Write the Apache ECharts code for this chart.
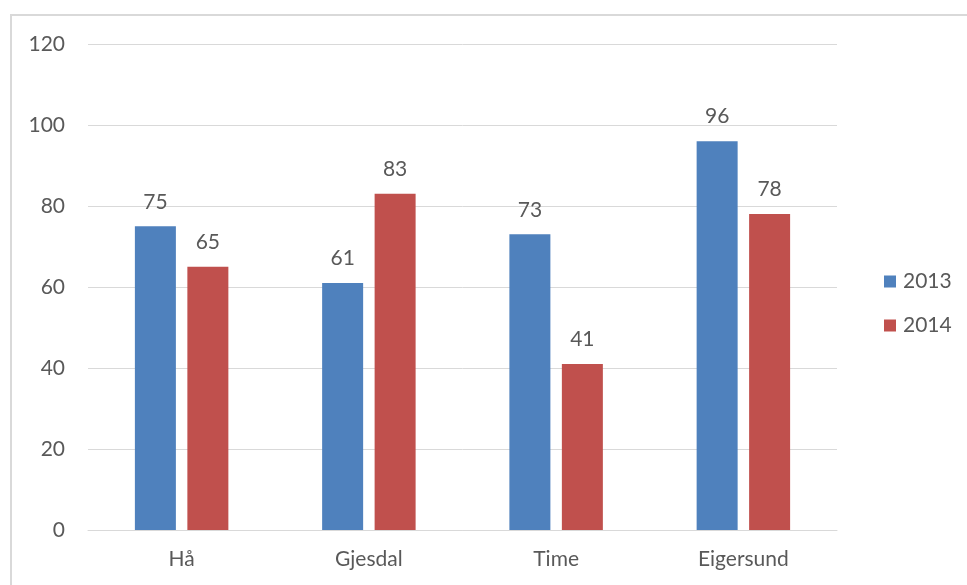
<!DOCTYPE html>
<html>
<head>
<meta charset="utf-8">
<script src="https://cdn.jsdelivr.net/npm/echarts@6/dist/echarts.min.js"></script>
<style>
  html, body { margin: 0; padding: 0; background: #ffffff; }
  #chart { width: 967px; height: 585px; }
</style>
</head>
<body>
<div id="chart"></div>
<script>
// Municipalities along the category axis
const categories = ['Hå', 'Gjesdal', 'Time', 'Eigersund'];
// Values per year
const values2013 = [75, 61, 73, 96];
const values2014 = [65, 83, 41, 78];
// Value axis range
const yMin = 0;
const yMax = 120;
const yStep = 20;

const textColor = '#595959';
const fontFamily = 'Lato, "Open Sans", sans-serif';
const fontSize = 21;

const chart = echarts.init(document.getElementById('chart'), null, { renderer: 'canvas' });

const labelStyle = {
  show: true,
  position: 'top',
  distance: 14,
  color: textColor,
  fontFamily: fontFamily,
  fontSize: fontSize
};

chart.setOption({
  animation: false,
  backgroundColor: '#ffffff',
  graphic: [{
    type: 'rect',
    shape: { x: 11, y: 15, width: 1200, height: 1000 },
    style: { fill: 'none', stroke: '#d9d9d9', lineWidth: 2 },
    silent: true
  }],
  grid: { left: 88, right: 130, top: 44, bottom: 55, containLabel: false },
  legend: {
    orient: 'vertical',
    left: 879,
    top: 266,
    itemWidth: 12,
    itemHeight: 12,
    itemGap: 23,
    icon: 'rect',
    textStyle: { color: textColor, fontFamily: fontFamily, fontSize: fontSize, padding: [0, 0, 0, 2] },
    data: ['2013', '2014']
  },
  xAxis: {
    type: 'category',
    data: categories,
    axisLine: { show: true, lineStyle: { color: '#d9d9d9', width: 1 } },
    axisTick: { show: false },
    axisLabel: { color: textColor, fontFamily: fontFamily, fontSize: fontSize, margin: 19 },
    splitLine: { show: false }
  },
  yAxis: {
    type: 'value',
    min: yMin,
    max: yMax,
    interval: yStep,
    axisLine: { show: false },
    axisTick: { show: false },
    axisLabel: { color: textColor, fontFamily: fontFamily, fontSize: fontSize, margin: 23 },
    splitLine: { show: true, lineStyle: { color: '#d9d9d9', width: 1 } }
  },
  series: [
    {
      name: '2013',
      type: 'bar',
      data: values2013,
      barWidth: 41,
      barGap: '28%',
      itemStyle: { color: '#4f81bd' },
      label: labelStyle
    },
    {
      name: '2014',
      type: 'bar',
      data: values2014,
      barWidth: 41,
      barGap: '28%',
      itemStyle: { color: '#c0504d' },
      label: labelStyle
    }
  ]
});
</script>
</body>
</html>
